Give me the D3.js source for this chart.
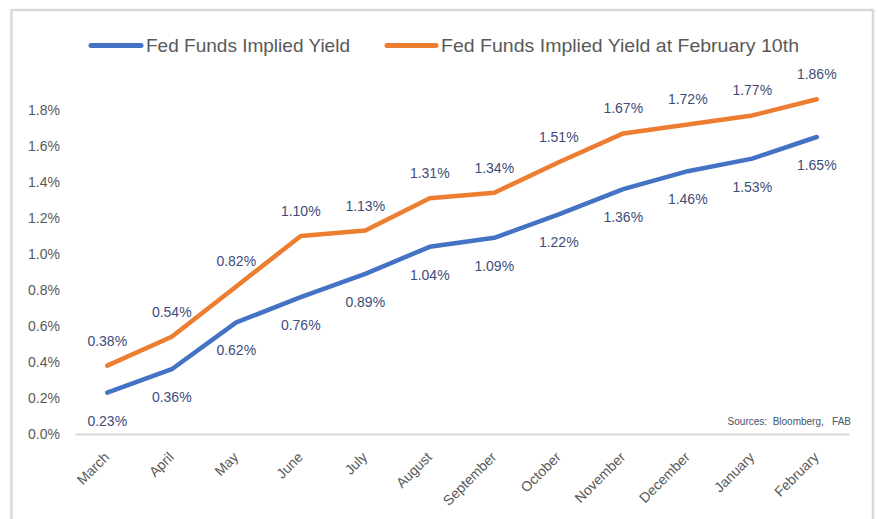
<!DOCTYPE html>
<html>
<head>
<meta charset="utf-8">
<script src="https://cdn.jsdelivr.net/npm/d3@7"></script>
<style>
  html, body { margin: 0; padding: 0; background: #fff; }
  svg { display: block; }
  text { font-family: "Liberation Sans", Arial, sans-serif; }
</style>
</head>
<body>
<svg id="chart" width="878" height="519"></svg>
<script>
const categories = ["March","April","May","June","July","August","September","October","November","December","January","February"];
const fedFunds = [0.23,0.36,0.62,0.76,0.89,1.04,1.09,1.22,1.36,1.46,1.53,1.65];
const fedFundsFeb10 = [0.38,0.54,0.82,1.10,1.13,1.31,1.34,1.51,1.67,1.72,1.77,1.86];
const yTicks = [0,0.2,0.4,0.6,0.8,1.0,1.2,1.4,1.6,1.8];
const seriesNames = ["Fed Funds Implied Yield","Fed Funds Implied Yield at February 10th"];
const colors = ["#4472C4","#ED7D31"];
const sourceText = "Sources:  Bloomberg,   FAB";

const svg = d3.select("#chart");

// frame
svg.append("rect").attr("x",11.5).attr("y",10).attr("width",861.5).attr("height",530)
  .attr("fill","#fff").attr("stroke","#d9d9d9").attr("stroke-width",2.5);

const x = d3.scaleBand().domain(categories).range([75,849]);
const y = d3.scaleLinear().domain([0,1]).range([434,254]);
const cx = c => x(c) + x.bandwidth()/2;

// y axis labels (no line)
const yAxis = d3.axisLeft(y).tickValues(yTicks).tickFormat(d => d.toFixed(1) + "%").tickSize(0).tickPadding(0);
const ya = svg.append("g").attr("transform","translate(60,0)").call(yAxis);
ya.select(".domain").remove();
ya.selectAll("text").attr("font-size",14).attr("fill","#595959")
  .style("font-family","'Liberation Sans', Arial, sans-serif");

// x axis
const xAxis = d3.axisBottom(x).tickSize(0).tickPadding(0);
const xa = svg.append("g").attr("transform","translate(0,434)").call(xAxis);
xa.select(".domain").attr("stroke","#d9d9d9").attr("stroke-width",2);
xa.selectAll(".tick text")
  .attr("font-size",14).attr("fill","#595959")
  .style("font-family","'Liberation Sans', Arial, sans-serif")
  .attr("text-anchor","end")
  .attr("y",0).attr("dy",0)
  .attr("transform","translate(3,24) rotate(-45)");

// lines
const line = d3.line().x((d,i) => cx(categories[i])).y(d => y(d));
[fedFunds, fedFundsFeb10].forEach((s,k) => {
  svg.append("path").datum(s).attr("d",line)
    .attr("fill","none").attr("stroke",colors[k]).attr("stroke-width",4.5)
    .attr("stroke-linejoin","round").attr("stroke-linecap","round");
});

// data labels
const labelColor = "#3E4C7B";
svg.append("g").selectAll("text").data(fedFundsFeb10).join("text")
  .attr("x",(d,i) => cx(categories[i])).attr("y",d => y(d) - 25).attr("dy","0.35em")
  .attr("text-anchor","middle").attr("font-size",14).attr("fill",labelColor)
  .text(d => d.toFixed(2) + "%");
svg.append("g").selectAll("text").data(fedFunds).join("text")
  .attr("x",(d,i) => cx(categories[i])).attr("y",d => y(d) + 28).attr("dy","0.35em")
  .attr("text-anchor","middle").attr("font-size",14).attr("fill",labelColor)
  .text(d => d.toFixed(2) + "%");

// legend
const legend = [
  {mx:91, mw:50, tx:146, tw:204},
  {mx:387, mw:49, tx:441, tw:358}
];
legend.forEach((l,k) => {
  svg.append("line").attr("x1",l.mx).attr("x2",l.mx+l.mw).attr("y1",45.5).attr("y2",45.5)
    .attr("stroke",colors[k]).attr("stroke-width",5).attr("stroke-linecap","round");
  svg.append("text").attr("x",l.tx).attr("y",51.5).attr("font-size",19).attr("fill","#595959")
    .attr("textLength",l.tw).attr("lengthAdjust","spacingAndGlyphs")
    .text(seriesNames[k]);
});

// source
svg.append("text").attr("x",851).attr("y",425).attr("text-anchor","end")
  .attr("font-size",10).attr("fill","#44546A").attr("xml:space","preserve")
  .style("white-space","pre")
  .text(sourceText);
</script>
</body>
</html>
